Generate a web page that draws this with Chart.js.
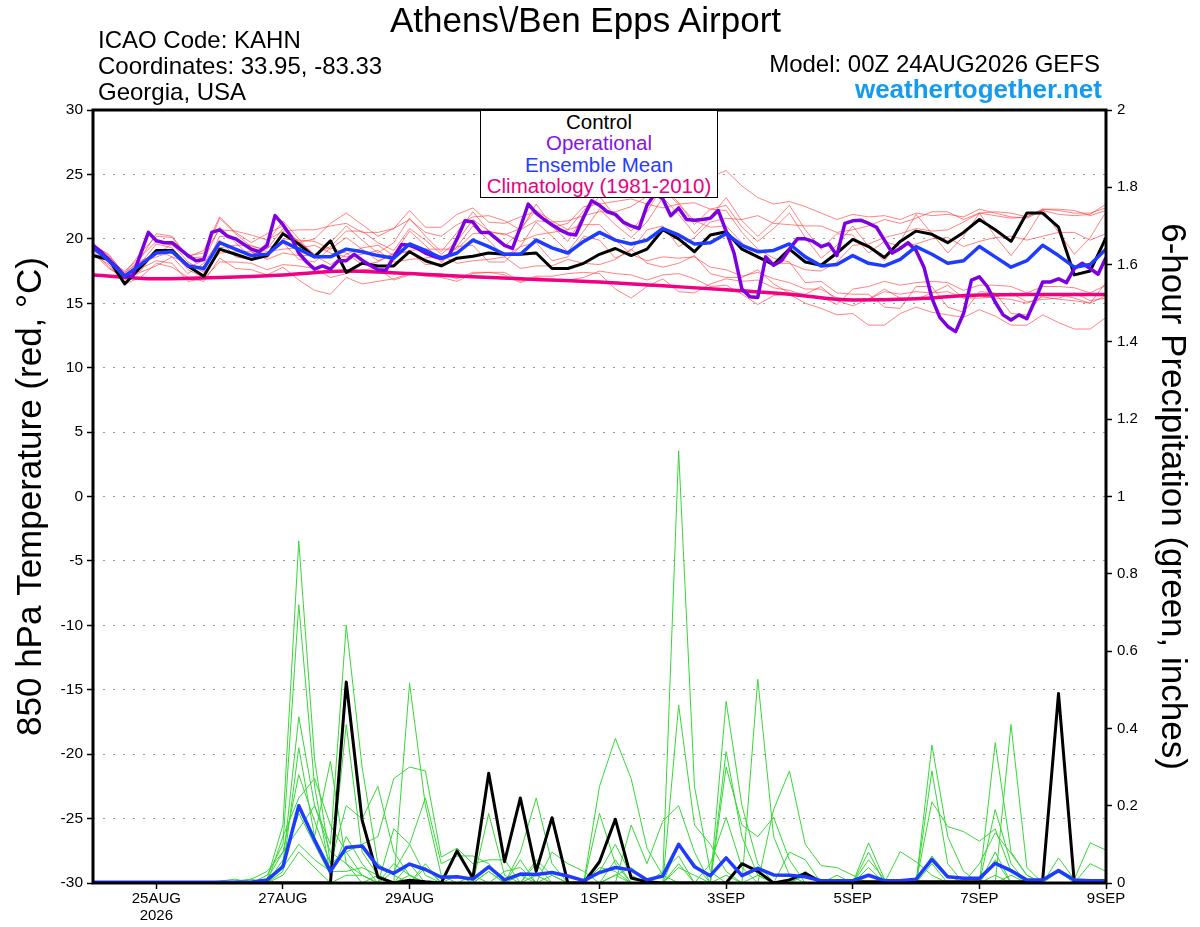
<!DOCTYPE html>
<html>
<head>
<meta charset="utf-8">
<title>Athens\/Ben Epps Airport</title>
<script src="https://cdn.jsdelivr.net/npm/chart.js@4.4.1/dist/chart.umd.min.js"></script>
<style>
html,body{margin:0;padding:0;background:#fff;}
#wrap{position:relative;width:1200px;height:927px;overflow:hidden;font-family:"Liberation Sans",Arial,Helvetica,sans-serif;background:#fff;}
#c{position:absolute;left:0;top:0;}
.t{position:absolute;white-space:nowrap;line-height:1;color:#000;}
#legendBox{position:absolute;left:480px;top:110px;width:238px;height:88px;box-sizing:border-box;border:1.5px solid #000;background:#fff;text-align:center;font-size:20.5px;line-height:21.4px;}
</style>
</head>
<body>
<div id="wrap">
<canvas id="c" width="1200" height="927"></canvas>
<div class="t" style="left:0;width:1171px;text-align:center;top:2px;font-size:35px;">Athens\/Ben Epps Airport</div>
<div class="t" style="left:98px;top:28px;font-size:24px;">ICAO Code: KAHN</div>
<div class="t" style="left:98px;top:54px;font-size:24px;">Coordinates: 33.95, -83.33</div>
<div class="t" style="left:98px;top:80px;font-size:24px;">Georgia, USA</div>
<div class="t" style="right:100px;top:52px;font-size:24px;">Model: 00Z 24AUG2026 GEFS</div>
<div class="t" style="right:98px;top:76px;font-size:26px;font-weight:bold;color:rgb(20,155,240);">weathertogether.net</div>
<div id="legendBox">
<div style="color:#000">Control</div>
<div style="color:rgb(135,20,230)">Operational</div>
<div style="color:rgb(40,60,255)">Ensemble Mean</div>
<div style="color:rgb(235,0,130)">Climatology (1981-2010)</div>
</div>
</div>
<script>
// ---------------- DATA ----------------
// x axis: forecast hour from 00Z 24AUG2026
const tickHours = [24, 72, 120, 192, 240, 288, 336, 384];
const tickLabels = [['25AUG', '2026'], '27AUG', '29AUG', '1SEP', '3SEP', '5SEP', '7SEP', '9SEP'];
const tempTicks = [-30, -25, -20, -15, -10, -5, 0, 5, 10, 15, 20, 25, 30];
const precipTicks = [0, 0.2, 0.4, 0.6, 0.8, 1, 1.2, 1.4, 1.6, 1.8, 2];

// Operational run temperature, 3-hourly (°C)
const operationalTemp = [
  19.5, 19.0, 18.4, 17.8, 17.1, 17.1, 18.8, 20.5,
  19.85, 19.7, 19.7, 19.2, 18.7, 18.3, 18.4, 20.5,
  20.7, 20.2, 20.0, 19.6, 19.2, 19.0, 19.5, 21.8,
  21.1, 20.2, 18.9, 18.2, 17.65, 17.9, 17.65, 18.3,
  18.3, 18.8, 18.34, 17.95, 17.6, 17.56, 18.6, 19.56,
  19.5, 19.25, 18.9, 18.65, 18.47, 18.73, 20.0, 21.4,
  21.3, 20.5, 20.5, 20.0, 19.5, 19.25, 20.9, 22.7,
  22.0, 21.5, 21.1, 20.7, 20.4, 20.3, 21.7, 22.95,
  22.6, 22.1, 21.9, 21.3, 21.0, 20.8, 22.6, 23.5,
  23.1, 21.8, 22.4, 21.5, 21.45, 21.5, 21.6, 22.2,
  20.6, 18.9, 16.1, 15.5, 15.45, 18.6, 17.95, 18.3,
  19.2, 20.0, 20.0, 19.8, 19.4, 19.6, 18.7, 21.2,
  21.4, 21.45, 21.2, 20.9, 19.9, 18.9, 19.25, 19.7,
  19.1, 17.8, 15.4, 13.9, 13.2, 12.8, 14.2, 16.8,
  17.05, 16.3, 15.1, 14.1, 13.7, 14.1, 13.8, 15.2,
  16.65, 16.65, 16.9, 16.6, 17.7, 18.1, 17.7, 17.25,
  18.55
];

// Control run temperature, 6-hourly (°C)
const controlTemp = [
  18.7, 18.4, 16.5, 17.8, 19.1, 19.1, 17.9, 17.1,
  19.2, 18.8, 18.4, 18.7, 20.4, 19.6, 18.6, 19.85,
  17.4, 18.1, 17.9, 17.9, 19.0, 18.3, 17.9, 18.5,
  18.65, 18.9, 18.8, 18.8, 18.9, 17.7, 17.7, 18.1,
  18.8, 19.25, 18.7, 19.2, 20.7, 20.0, 19.0, 20.3,
  20.55, 19.2, 18.6, 18.0, 19.2, 18.2, 17.95, 18.9,
  19.95, 19.4, 18.55, 19.8, 20.6, 20.35, 19.7, 20.5,
  21.5, 20.7, 19.8, 22.0, 22.0, 20.9, 17.2, 17.5,
  20.1
];

// Ensemble mean temperature, 6-hourly (°C)
const meanTemp = [
  19.3, 18.3, 17.1, 18.0, 18.9, 19.0, 17.9, 17.7,
  19.7, 19.2, 18.7, 18.8, 19.8, 19.2, 18.6, 18.6,
  19.2, 19.0, 18.7, 18.5, 19.6, 19.1, 18.5, 18.9,
  19.9, 19.4, 18.8, 18.8, 19.9, 19.3, 18.9, 19.8,
  20.5, 19.9, 19.6, 19.9, 20.8, 20.3, 19.6, 19.7,
  20.4, 19.5, 19.0, 19.1, 19.6, 18.6, 17.9, 18.0,
  18.7, 18.1, 17.9, 18.4, 19.4, 18.8, 18.1, 18.3,
  19.4, 18.6, 17.8, 18.3, 19.5, 18.7, 17.8, 18.0,
  19.2
];

// Climatology 1981-2010, daily (°C)
const climatologyTemp = [17.2, 16.9, 17.0, 17.2, 17.5, 17.3, 17.05, 16.85, 16.65, 16.35, 16.05, 15.7, 15.25, 15.35, 15.65, 15.67, 15.67];

// Ensemble member temperatures, 6-hourly (°C)
const tempMember1 = [
  19.6, 18.7, 17.3, 18.9, 20.2, 20.1, 18.5, 18.6,
  21.6, 20.4, 19.4, 19.2, 20.8, 19.8, 18.8, 19.4,
  20.6, 20.6, 19.7, 19.1, 20.8, 19.9, 18.8, 19.8,
  21.5, 20.6, 20.3, 20.8, 22.2, 21.4, 20.7, 22.2,
  23.7, 23.7, 24.2, 24.1, 25.2, 24.2, 24.2, 24.8,
  25.3, 24.1, 23.2, 22.7, 22.9, 22.5, 22.0, 21.5,
  21.9, 21.7, 21.8, 21.5, 22.0, 21.8, 21.9, 21.7,
  22.3, 22.0, 21.7, 21.6, 22.2, 21.9, 21.8, 21.9,
  22.7
];
const tempMember2 = [
  18.8, 18.0, 16.5, 17.0, 18.1, 17.8, 17.0, 16.7,
  18.5, 17.7, 17.6, 17.2, 17.8, 16.8, 16.0, 15.7,
  17.0, 16.5, 16.7, 16.9, 17.3, 17.1, 17.0, 16.7,
  17.3, 17.4, 17.2, 16.6, 17.0, 16.8, 16.8, 17.0,
  17.5, 17.3, 17.2, 16.8, 17.2, 17.3, 16.9, 16.3,
  16.4, 15.7, 14.9, 15.6, 15.7, 15.0, 14.6, 14.1,
  14.2, 13.3, 13.3, 14.2, 14.7, 14.3, 14.1, 13.9,
  14.5, 14.0, 13.3, 13.3, 14.1, 13.5, 13.0, 13.0,
  13.9
];
const tempMember3 = [
  19.4, 18.3, 17.5, 18.6, 19.8, 19.5, 18.7, 18.9,
  20.7, 20.6, 20.3, 19.9, 20.6, 20.7, 20.7, 21.0,
  21.2, 20.5, 20.5, 20.8, 21.5, 20.5, 20.2, 21.1,
  21.7, 21.8, 21.4, 20.7, 21.4, 21.3, 21.4, 21.8,
  22.1, 22.1, 22.5, 23.3, 23.8, 22.7, 21.4, 20.9,
  21.0, 19.7, 18.5, 18.1, 18.1, 17.6, 17.5, 18.2,
  19.5, 19.6, 20.1, 20.4, 20.8, 20.6, 20.7, 21.3,
  22.0, 21.8, 21.6, 21.7, 22.3, 22.2, 22.0, 22.0,
  22.4
];
const tempMember4 = [
  19.1, 17.8, 16.8, 17.4, 17.9, 18.6, 18.1, 17.4,
  18.9, 19.0, 19.0, 18.4, 18.9, 18.7, 18.7, 18.0,
  18.8, 19.3, 19.5, 18.7, 19.1, 19.2, 19.2, 19.2,
  20.4, 20.5, 20.4, 19.8, 20.3, 20.5, 20.7, 21.1,
  21.1, 19.9, 18.8, 18.3, 18.6, 18.5, 18.6, 17.8,
  17.6, 17.1, 17.4, 16.9, 16.6, 16.1, 16.1, 15.4,
  15.3, 15.3, 15.9, 15.7, 15.9, 15.8, 15.9, 15.4,
  15.6, 15.4, 15.3, 15.0, 15.5, 15.3, 15.2, 15.0,
  15.6
];
const tempMember5 = [
  19.7, 18.4, 16.9, 18.3, 18.8, 19.6, 18.2, 17.5,
  20.2, 20.1, 19.0, 18.5, 20.0, 19.9, 19.8, 19.2,
  20.1, 19.2, 18.3, 18.8, 20.6, 19.5, 18.2, 19.4,
  21.0, 19.9, 18.6, 19.4, 21.3, 20.2, 19.0, 20.6,
  22.3, 21.1, 20.1, 21.3, 23.2, 21.9, 20.4, 21.7,
  23.2, 21.4, 20.2, 21.3, 22.6, 20.7, 19.2, 20.4,
  20.3, 18.9, 19.8, 19.4, 19.6, 20.0, 20.1, 19.4,
  19.8, 20.1, 20.2, 19.9, 20.2, 20.5, 20.5, 19.9,
  20.4
];
const tempMember6 = [
  18.9, 17.7, 17.0, 17.7, 18.3, 18.1, 16.7, 16.9,
  18.2, 18.2, 18.1, 17.6, 18.0, 17.9, 17.7, 17.0,
  17.3, 17.6, 17.7, 16.8, 17.2, 17.3, 17.3, 16.9,
  17.4, 17.4, 17.4, 16.7, 17.1, 17.1, 17.3, 17.4,
  17.3, 16.1, 15.4, 16.3, 16.9, 15.9, 15.8, 16.5,
  16.9, 16.7, 16.8, 16.2, 16.0, 15.6, 15.5, 14.9,
  16.1, 16.3, 16.7, 16.4, 16.6, 16.7, 16.6, 16.0,
  16.4, 16.4, 16.3, 15.8, 16.3, 16.3, 16.2, 15.8,
  16.4
];
const tempMember7 = [
  19.5, 18.2, 17.2, 18.5, 20.4, 20.2, 18.6, 19.1,
  21.7, 20.5, 19.7, 20.4, 21.0, 19.7, 20.0, 21.2,
  22.0, 21.1, 20.2, 20.8, 22.2, 20.9, 20.9, 21.9,
  22.4, 21.3, 21.2, 21.7, 22.1, 20.9, 21.2, 22.5,
  22.7, 22.9, 23.1, 22.7, 22.4, 22.7, 22.8, 22.3,
  22.2, 20.5, 19.2, 18.5, 18.2, 16.6, 16.7, 15.8,
  15.7, 15.7, 14.7, 14.6, 16.3, 16.3, 14.7, 14.3,
  15.9, 15.8, 14.2, 14.1, 15.7, 15.7, 15.4, 15.0,
  16.6
];
const tempMember8 = [
  19.2, 18.6, 17.1, 17.5, 19.1, 18.6, 17.3, 18.1,
  19.9, 18.6, 18.4, 19.3, 19.7, 18.4, 18.2, 19.3,
  18.9, 18.0, 18.2, 18.9, 19.0, 18.0, 18.1, 19.4,
  19.5, 18.2, 18.2, 19.4, 19.7, 18.3, 18.6, 20.2,
  19.9, 18.5, 19.1, 20.7, 21.0, 19.4, 20.1, 21.3,
  21.6, 21.5, 21.8, 21.2, 21.1, 21.0, 21.0, 20.5,
  20.7, 21.0, 21.5, 21.2, 21.6, 22.1, 22.1, 21.5,
  22.0, 22.1, 22.0, 21.7, 22.3, 22.3, 22.2, 21.8,
  22.2
];
const tempMember9 = [
  19.3, 18.1, 17.4, 18.2, 18.6, 19.0, 17.6, 17.0,
  19.3, 19.5, 19.5, 19.0, 19.2, 19.3, 19.5, 18.9,
  18.6, 18.8, 19.1, 18.2, 18.4, 18.5, 18.7, 18.1,
  18.3, 18.4, 18.6, 17.7, 17.9, 17.9, 18.4, 18.1,
  18.0, 18.4, 19.2, 18.1, 17.8, 18.1, 18.7, 17.3,
  17.0, 17.0, 17.6, 16.5, 15.8, 15.7, 16.3, 15.2,
  14.8, 15.3, 16.1, 15.4, 15.3, 15.8, 16.4, 15.4,
  15.4, 15.5, 15.8, 15.1, 15.3, 15.4, 15.8, 15.2,
  15.4
];
const tempMember10 = [
  19.5, 18.8, 17.2, 18.1, 19.6, 19.3, 17.8, 18.3,
  20.9, 19.7, 18.6, 19.7, 21.4, 20.0, 18.6, 19.7,
  21.0, 19.9, 18.9, 19.7, 21.6, 20.2, 19.0, 20.5,
  22.1, 20.6, 19.4, 20.6, 22.7, 21.0, 19.8, 21.8,
  23.3, 21.7, 20.6, 22.1, 24.1, 22.8, 21.1, 22.3,
  22.6, 20.9, 19.8, 20.8, 22.0, 20.1, 18.5, 19.5,
  21.0, 19.4, 18.3, 19.8, 21.9, 20.4, 18.9, 20.2,
  22.0, 20.2, 18.7, 20.3, 22.3, 20.5, 18.8, 20.1,
  22.1
];
const tempMembers = [tempMember1, tempMember2, tempMember3, tempMember4, tempMember5,
                     tempMember6, tempMember7, tempMember8, tempMember9, tempMember10];

// 6-hour precipitation (inches), 6-hourly
const controlPrecip = [
  0, 0, 0, 0, 0, 0, 0, 0,
  0, 0, 0, 0, 0, 0, 0, 0,
  0.52, 0.163, 0.015, 0, 0.007, 0.003, 0, 0.083,
  0.013, 0.284, 0.055, 0.22, 0.03, 0.169, 0, 0,
  0.055, 0.165, 0.013, 0.003, 0, 0, 0, 0,
  0, 0.05, 0.03, 0, 0.008, 0.025, 0.003, 0.003,
  0.003, 0.003, 0.003, 0.003, 0.003, 0.003, 0.003, 0.003,
  0.003, 0.003, 0.003, 0.003, 0.008, 0.49, 0, 0,
  0
];
const meanPrecip = [
  0.002, 0.002, 0.002, 0.002, 0.002, 0.002, 0.002, 0.002,
  0.002, 0.002, 0.002, 0.008, 0.042, 0.2, 0.111, 0.03,
  0.092, 0.096, 0.042, 0.025, 0.049, 0.035, 0.015, 0.016,
  0.01, 0.042, 0.008, 0.023, 0.022, 0.027, 0.018, 0.006,
  0.027, 0.04, 0.034, 0.008, 0.018, 0.1, 0.042, 0.019,
  0.065, 0.019, 0.038, 0.021, 0.02, 0.016, 0.006, 0.006,
  0.006, 0.02, 0.006, 0.006, 0.01, 0.061, 0.016, 0.012,
  0.012, 0.051, 0.032, 0.008, 0.008, 0.032, 0.008, 0.006,
  0.006
];
const precipMember1 = [
  0, 0, 0, 0, 0, 0, 0, 0,
  0, 0, 0.005, 0.01, 0.15, 0.885, 0.32, 0.05,
  0.08, 0.02, 0, 0.03, 0.1, 0.02, 0, 0,
  0, 0, 0, 0.02, 0, 0, 0, 0,
  0.03, 0.1, 0.02, 0, 0, 0.05, 0, 0,
  0.02, 0, 0, 0, 0, 0, 0, 0,
  0, 0.02, 0, 0, 0, 0.05, 0, 0,
  0, 0.02, 0, 0, 0, 0, 0, 0,
  0
];
const precipMember2 = [
  0, 0, 0, 0, 0, 0, 0, 0,
  0, 0, 0, 0.02, 0.1, 0.72, 0.25, 0.02,
  0.41, 0.08, 0.02, 0, 0.05, 0, 0, 0.02,
  0, 0.03, 0, 0, 0, 0.02, 0, 0,
  0, 0, 0, 0, 0.02, 1.118, 0.25, 0.03,
  0, 0, 0.02, 0, 0, 0, 0, 0,
  0, 0, 0, 0, 0, 0.29, 0.05, 0,
  0, 0, 0.02, 0, 0, 0, 0, 0,
  0
];
const precipMember3 = [
  0, 0, 0, 0, 0, 0, 0, 0,
  0, 0, 0, 0, 0.05, 0.43, 0.2, 0.1,
  0.667, 0.3, 0.05, 0.02, 0, 0.05, 0, 0,
  0, 0.18, 0.02, 0, 0, 0, 0, 0,
  0, 0.02, 0, 0, 0, 0, 0, 0,
  0.47, 0.2, 0.05, 0, 0, 0, 0, 0,
  0, 0, 0, 0, 0, 0, 0, 0,
  0, 0.363, 0.08, 0.02, 0, 0, 0, 0,
  0
];
const precipMember4 = [
  0, 0, 0, 0, 0, 0, 0, 0,
  0, 0, 0, 0, 0.03, 0.35, 0.12, 0.315,
  0.05, 0, 0.02, 0, 0.517, 0.2, 0.02, 0,
  0, 0, 0, 0, 0.05, 0, 0, 0,
  0.25, 0.374, 0.27, 0.09, 0.02, 0, 0, 0,
  0, 0, 0.527, 0.12, 0.02, 0, 0, 0,
  0, 0, 0, 0, 0, 0, 0, 0,
  0, 0, 0.41, 0.04, 0, 0, 0, 0,
  0
];
const precipMember5 = [
  0, 0, 0, 0, 0, 0, 0, 0,
  0, 0, 0, 0.01, 0.08, 0.28, 0.16, 0.05,
  0.2, 0.166, 0.25, 0.08, 0.02, 0, 0, 0,
  0, 0, 0, 0.08, 0.22, 0.05, 0, 0,
  0, 0, 0, 0, 0, 0.46, 0.15, 0.1,
  0.03, 0, 0, 0, 0, 0, 0, 0,
  0, 0.104, 0.01, 0, 0, 0.357, 0.12, 0.03,
  0, 0, 0, 0, 0, 0, 0, 0,
  0
];
const precipMember6 = [
  0, 0, 0, 0, 0, 0, 0, 0,
  0, 0, 0, 0, 0.12, 0.22, 0.27, 0.15,
  0.08, 0.1, 0.12, 0.27, 0.3, 0.29, 0.067, 0.09,
  0.05, 0.06, 0.06, 0, 0, 0, 0, 0,
  0.18, 0.05, 0, 0, 0, 0, 0, 0,
  0.34, 0.12, 0.02, 0, 0.08, 0.06, 0, 0,
  0, 0, 0, 0, 0, 0, 0, 0,
  0, 0.19, 0.05, 0, 0, 0, 0, 0,
  0
];
const precipMember7 = [
  0, 0, 0, 0, 0, 0, 0, 0,
  0, 0, 0, 0, 0.06, 0.18, 0.1, 0.02,
  0.12, 0.05, 0, 0.14, 0.1, 0.22, 0.05, 0.07,
  0.07, 0.05, 0, 0.06, 0, 0.08, 0.05, 0.03,
  0, 0, 0.15, 0.05, 0.16, 0.2, 0.08, 0,
  0, 0, 0, 0.19, 0.29, 0.1, 0.045, 0.04,
  0.02, 0, 0, 0, 0, 0.21, 0.146, 0.133,
  0.108, 0.14, 0.03, 0, 0, 0, 0, 0,
  0
];
const precipMember8 = [
  0, 0, 0, 0, 0, 0, 0, 0,
  0, 0, 0.01, 0.03, 0.08, 0.14, 0.2, 0.08,
  0.05, 0.02, 0, 0, 0.02, 0, 0, 0,
  0, 0.03, 0, 0, 0.06, 0.02, 0, 0,
  0, 0.06, 0, 0, 0, 0.1, 0.05, 0,
  0.3, 0.15, 0.12, 0.17, 0.06, 0, 0, 0,
  0, 0.08, 0, 0.081, 0.055, 0.02, 0, 0,
  0, 0.08, 0, 0, 0, 0.065, 0.01, 0.104,
  0.085
];
const precipMember9 = [
  0, 0, 0, 0, 0, 0, 0, 0,
  0, 0.005, 0.01, 0, 0.04, 0.1, 0.06, 0.03,
  0.03, 0.04, 0.02, 0, 0, 0.04, 0, 0,
  0, 0, 0.03, 0.04, 0, 0, 0, 0,
  0.04, 0.03, 0, 0, 0.03, 0.07, 0, 0.05,
  0.17, 0.04, 0, 0, 0, 0.03, 0, 0.02,
  0, 0.06, 0.01, 0, 0, 0, 0, 0,
  0.05, 0.13, 0.076, 0.02, 0, 0, 0, 0.05,
  0.03
];
const precipMember10 = [
  0, 0, 0, 0, 0, 0, 0, 0,
  0.005, 0.01, 0, 0, 0.02, 0.08, 0.04, 0,
  0.02, 0.02, 0, 0.05, 0.02, 0, 0, 0,
  0.02, 0, 0, 0, 0.02, 0, 0, 0,
  0, 0.02, 0.04, 0, 0, 0.04, 0.02, 0,
  0, 0, 0, 0, 0, 0.02, 0, 0,
  0, 0.04, 0, 0, 0, 0.07, 0.02, 0,
  0, 0.06, 0, 0, 0, 0.03, 0, 0,
  0
];
const precipMembers = [precipMember1, precipMember2, precipMember3, precipMember4, precipMember5,
                       precipMember6, precipMember7, precipMember8, precipMember9, precipMember10];

// ---------------- CHART ----------------
const FONT = '"Liberation Sans", Arial, Helvetica, sans-serif';
Chart.defaults.font.family = FONT;
Chart.defaults.color = '#000';

function series(values, stepHours) {
  return values.map((v, i) => ({ x: i * stepHours, y: v }));
}

const datasets = [];
tempMembers.forEach((m, k) => datasets.push({
  label: 'Temperature member ' + (k + 1), data: series(m, 6), yAxisID: 'yT',
  borderColor: 'rgba(255,55,55,0.62)', borderWidth: 1, pointRadius: 0, tension: 0, order: 10
}));
precipMembers.forEach((m, k) => datasets.push({
  label: 'Precipitation member ' + (k + 1), data: series(m, 6), yAxisID: 'yP',
  borderColor: 'rgb(55,215,55)', borderWidth: 1, pointRadius: 0, tension: 0, order: 9
}));
datasets.push({
  label: 'Climatology (1981-2010)', data: series(climatologyTemp, 24), yAxisID: 'yT',
  borderColor: 'rgb(240,0,130)', borderWidth: 3.5, pointRadius: 0, cubicInterpolationMode: 'monotone', order: 8
});
datasets.push({
  label: 'Control precipitation', data: series(controlPrecip, 6), yAxisID: 'yP',
  borderColor: '#000', borderWidth: 3, pointRadius: 0, tension: 0, borderJoinStyle: 'round', order: 5
});
datasets.push({
  label: 'Control', data: series(controlTemp, 6), yAxisID: 'yT',
  borderColor: '#000', borderWidth: 3, pointRadius: 0, tension: 0, borderJoinStyle: 'round', order: 5
});
datasets.push({
  label: 'Operational', data: series(operationalTemp, 3), yAxisID: 'yT',
  borderColor: 'rgb(125,0,225)', borderWidth: 3.5, pointRadius: 0, tension: 0, borderJoinStyle: 'round', order: 3
});
datasets.push({
  label: 'Ensemble Mean precipitation', data: series(meanPrecip, 6), yAxisID: 'yP',
  borderColor: 'rgb(30,60,255)', borderWidth: 3.5, pointRadius: 0, tension: 0, borderJoinStyle: 'round', order: 2
});
datasets.push({
  label: 'Ensemble Mean', data: series(meanTemp, 6), yAxisID: 'yT',
  borderColor: 'rgb(30,60,255)', borderWidth: 3.5, pointRadius: 0, tension: 0, borderJoinStyle: 'round', order: 2
});

const bgPlugin = {
  id: 'bg',
  beforeDraw(chart) {
    const ctx = chart.ctx;
    ctx.save(); ctx.fillStyle = '#fff'; ctx.fillRect(0, 0, chart.width, chart.height); ctx.restore();
  }
};
const framePlugin = {
  id: 'frame',
  afterDatasetsDraw(chart) {
    const { ctx, chartArea: a } = chart;
    ctx.save();
    ctx.strokeStyle = '#000';
    ctx.lineWidth = 3;
    ctx.strokeRect(a.left, a.top, a.right - a.left, a.bottom - a.top);
    ctx.restore();
  }
};

new Chart(document.getElementById('c'), {
  type: 'line',
  data: { datasets },
  plugins: [bgPlugin, framePlugin],
  options: {
    responsive: false,
    devicePixelRatio: 1,
    animation: false,
    parsing: true,
    layout: { padding: { top: 110, left: 0, right: 0, bottom: 0 } },
    plugins: { legend: { display: false }, tooltip: { enabled: false }, title: { display: false } },
    scales: {
      x: {
        type: 'linear', min: 0, max: 384,
        afterFit(s) { s.height = 44; },
        afterBuildTicks(s) { s.ticks = tickHours.map(v => ({ value: v })); },
        ticks: {
          autoSkip: false, maxRotation: 0, minRotation: 0, padding: 2, color: '#000',
          font: { size: 15, lineHeight: 1.1 },
          callback: (v, i) => tickLabels[i]
        },
        grid: { drawOnChartArea: false, drawTicks: true, tickLength: 6, tickColor: '#000', tickWidth: 1.5 },
        border: { display: false }
      },
      yT: {
        type: 'linear', position: 'left', min: -30, max: 30,
        afterFit(s) { s.width = 93; },
        afterBuildTicks(s) { s.ticks = tempTicks.map(v => ({ value: v })); },
        ticks: { padding: 4, color: '#000', font: { size: 15.5 }, callback: v => String(v) },
        grid: { drawOnChartArea: true, color: '#9a9a9a', lineWidth: 1, drawTicks: true, tickLength: 6, tickColor: '#000', tickWidth: 1.5 },
        border: { display: false, dash: [2, 8] },
        title: { display: true, text: '850 hPa Temperature (red, °C)', font: { size: 35 }, color: '#000', padding: { top: 10, bottom: 0 } }
      },
      yP: {
        type: 'linear', position: 'right', min: 0, max: 2,
        afterFit(s) { s.width = 94; },
        afterBuildTicks(s) { s.ticks = precipTicks.map(v => ({ value: v })); },
        ticks: { padding: 5, color: '#000', font: { size: 15 }, callback: v => String(+v.toFixed(1)) },
        grid: { drawOnChartArea: false, drawTicks: true, tickLength: 6, tickColor: '#000', tickWidth: 1.5 },
        border: { display: false },
        title: { display: true, text: '6-hour Precipitation (green, inches)', font: { size: 35 }, color: '#000', padding: { top: 7, bottom: 0 } }
      }
    }
  }
});
</script>
</body>
</html>
